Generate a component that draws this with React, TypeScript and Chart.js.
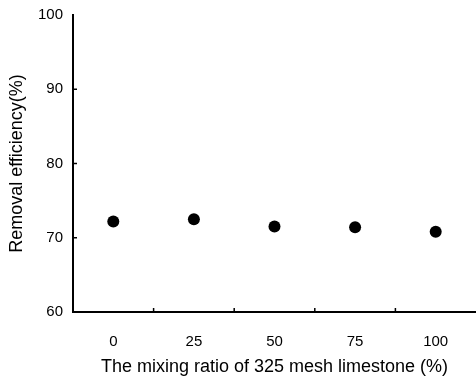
import React, { useEffect, useRef } from "react";
import { Chart, registerables } from "chart.js";

Chart.register(...registerables);

const categories = ["0", "25", "50", "75", "100"];
const removalEfficiency = [72.2, 72.5, 71.5, 71.4, 70.8];
const yTicks = [60, 70, 80, 90, 100];

const innerTicks = {
  id: "innerTicks",
  afterDraw(chart: any) {
    const ctx = chart.ctx;
    const x = chart.scales.x;
    const y = chart.scales.y;
    const area = chart.chartArea;
    ctx.save();
    ctx.strokeStyle = "#000";
    ctx.lineWidth = 1.5;
    ctx.beginPath();
    for (let i = 1; i < categories.length; i++) {
      const px = (x.getPixelForTick(i - 1) + x.getPixelForTick(i)) / 2;
      ctx.moveTo(px, area.bottom);
      ctx.lineTo(px, area.bottom - 4);
    }
    for (let i = 1; i < yTicks.length - 1; i++) {
      const py = y.getPixelForValue(yTicks[i]);
      ctx.moveTo(area.left, py);
      ctx.lineTo(area.left + 4, py);
    }
    ctx.stroke();
    ctx.restore();
  },
};

export default function App() {
  const ref = useRef<HTMLCanvasElement>(null);
  useEffect(() => {
    document.body.style.margin = "0";
    const chart = new Chart(ref.current!, {
      type: "line",
      data: {
        labels: categories,
        datasets: [
          {
            data: removalEfficiency,
            showLine: false,
            pointRadius: 6,
            pointBackgroundColor: "#000",
            pointBorderColor: "#000",
            pointBorderWidth: 0,
          },
        ],
      },
      options: {
        animation: false,
        responsive: false,
        events: [],
        layout: { autoPadding: false, padding: { top: 15, right: 0, left: 0, bottom: 0 } },
        plugins: { legend: { display: false }, tooltip: { enabled: false } },
        scales: {
          x: {
            type: "category",
            offset: true,
            grid: { display: true, drawOnChartArea: false, drawTicks: false },
            border: { display: true, color: "#000", width: 2 },
            ticks: {
              color: "#000",
              padding: 21,
              font: { family: "Liberation Sans, Arial", size: 15 },
            },
            title: {
              display: true,
              text: "The mixing ratio of 325 mesh limestone (%)",
              color: "#000",
              font: { family: "Liberation Sans, Arial", size: 18 },
              padding: { top: 6, bottom: 4 },
            },
            afterFit: (s: any) => {
              s.height = 70;
              s.paddingLeft = 0;
              s.paddingRight = 0;
            },
          },
          y: {
            min: 60,
            max: 100,
            afterBuildTicks: (s: any) => {
              s.ticks = yTicks.map((v) => ({ value: v }));
            },
            grid: { display: true, drawOnChartArea: false, drawTicks: false },
            border: { display: true, color: "#000", width: 2 },
            ticks: {
              color: "#000",
              padding: 10,
              font: { family: "Liberation Sans, Arial", size: 15 },
            },
            title: {
              display: true,
              text: "Removal efficiency(%)",
              color: "#000",
              font: { family: "Liberation Sans, Arial", size: 18 },
              padding: { top: 6, bottom: 0 },
            },
            afterFit: (s: any) => {
              s.width = 73;
              s.paddingTop = 0;
              s.paddingBottom = 0;
            },
          },
        },
      },
      plugins: [innerTicks],
    });
    return () => chart.destroy();
  }, []);
  return <canvas ref={ref} width={476} height={382} style={{ display: "block" }} />;
}
